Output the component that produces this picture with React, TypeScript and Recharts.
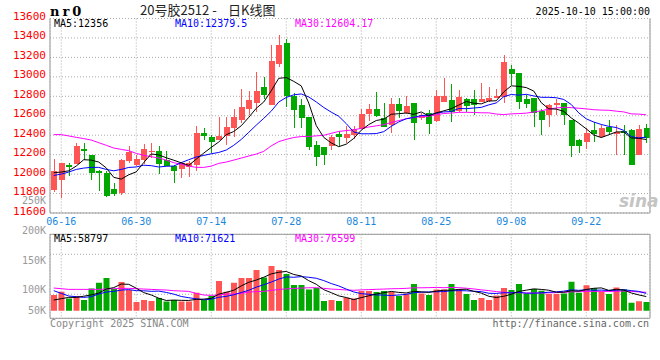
import React from "react";
import {
  ComposedChart,
  Bar,
  Line,
  XAxis,
  YAxis,
  CartesianGrid,
  ReferenceArea,
  Cell,
} from "recharts";

// trading days shown (06-13 .. 10-10)
const dates = [
  "06-13", "06-16", "06-17", "06-18", "06-19", "06-20", "06-23", "06-24", "06-25", "06-26",
  "06-27", "06-30", "07-01", "07-02", "07-03", "07-04", "07-07", "07-08", "07-09", "07-10",
  "07-11", "07-14", "07-15", "07-16", "07-17", "07-18", "07-21", "07-22", "07-23", "07-24",
  "07-25", "07-28", "07-29", "07-30", "07-31", "08-01", "08-04", "08-05", "08-06", "08-07",
  "08-08", "08-11", "08-12", "08-13", "08-14", "08-15", "08-18", "08-19", "08-20", "08-21",
  "08-22", "08-25", "08-26", "08-27", "08-28", "08-29", "09-01", "09-02", "09-03", "09-04",
  "09-05", "09-08", "09-09", "09-10", "09-11", "09-12", "09-15", "09-16", "09-17", "09-18",
  "09-19", "09-22", "09-23", "09-24", "09-25", "09-26", "09-29", "09-30", "10-09", "10-10",
];

const opens = [
  11834, 11938, 12090, 12103, 12254, 12193, 12035, 12010, 11850, 11805,
  12135, 12090, 12150, 12228, 12240, 12145, 12082, 12055, 12069, 12090,
  12426, 12378, 12350, 12391, 12474, 12556, 12666, 12734, 12900, 12713,
  13136, 13349, 12800, 12714, 12584, 12295, 12275, 12289, 12412, 12371,
  12399, 12467, 12616, 12665, 12574, 12501, 12720, 12625, 12727, 12577,
  12625, 12549, 12741, 12762, 12645, 12776, 12769, 12741, 12748, 12783,
  12790, 13084, 13036, 12769, 12783, 12652, 12604, 12714, 12727, 12556,
  12350, 12329, 12450, 12385, 12480, 12415, 12445, 12450, 12195, 12477,
];
const highs = [
  12160, 12115, 12110, 12323, 12316, 12200, 12045, 12035, 11905, 12155,
  12290, 12200, 12305, 12315, 12290, 12235, 12097, 12125, 12130, 12494,
  12474, 12400, 12584, 12590, 12666, 12880, 12852, 13046, 13003, 13332,
  13434, 13390, 12830, 12776, 12590, 12344, 12275, 12400, 12440, 12494,
  12494, 12665, 12720, 12840, 12735, 12782, 12782, 12803, 12730, 12625,
  12660, 12865, 12990, 12927, 12865, 12780, 12865, 12940, 12892, 12872,
  13222, 13120, 13040, 12810, 12785, 12674, 12720, 12769, 12730, 12560,
  12365, 12474, 12540, 12500, 12560, 12500, 12510, 12460, 12500, 12520,
];
const lows = [
  11815, 11755, 11980, 12100, 12144, 11938, 11825, 11760, 11775, 11785,
  12110, 12080, 12105, 12170, 12005, 12080, 11905, 11955, 11973, 12030,
  12350, 12220, 12348, 12300, 12378, 12522, 12605, 12640, 12770, 12710,
  13104, 12694, 12477, 12477, 12248, 12082, 12097, 12248, 12288, 12323,
  12365, 12460, 12548, 12590, 12480, 12425, 12577, 12620, 12350, 12560,
  12412, 12540, 12740, 12535, 12638, 12638, 12604, 12740, 12745, 12780,
  12730, 12920, 12666, 12680, 12480, 12400, 12487, 12611, 12508, 12178,
  12220, 12255, 12330, 12370, 12400, 12195, 12200, 12090, 12195, 12320,
];
const closes = [
  12028, 12110, 12076, 12285, 12241, 12007, 12010, 11775, 11800, 12150,
  12230, 12160, 12255, 12240, 12103, 12082, 12035, 12117, 12110, 12426,
  12392, 12330, 12392, 12487, 12590, 12687, 12762, 12858, 12810, 13167,
  13328, 12800, 12663, 12577, 12282, 12172, 12193, 12378, 12385, 12412,
  12467, 12616, 12665, 12596, 12480, 12720, 12645, 12700, 12528, 12603,
  12515, 12803, 12803, 12638, 12790, 12700, 12714, 12769, 12783, 12803,
  13155, 13029, 12741, 12720, 12625, 12556, 12714, 12727, 12604, 12288,
  12288, 12419, 12410, 12474, 12430, 12435, 12420, 12095, 12460, 12367,
];
const volumes = [
  65200, 78900, 51000, 61000, 44400, 92500, 116200, 135700, 90100, 119100,
  85900, 36100, 44400, 40300, 52700, 38600, 44400, 38600, 38600, 74700,
  44400, 61000, 123300, 78900, 116200, 135700, 135700, 168900, 138200, 185500,
  168900, 152300, 106700, 106700, 88400, 94200, 40300, 44400, 40300, 54000,
  51000, 81800, 81800, 77600, 81800, 77600, 61000, 70600, 110800, 71800,
  65200, 88400, 88400, 110800, 88400, 69300, 44400, 52700, 44400, 63500,
  94200, 85900, 110800, 71800, 90100, 83000, 69300, 69300, 71800, 120000,
  74000, 106000, 93000, 80000, 69200, 96500, 89500, 32500, 39500, 36000,
];

// moving-average values before a full window exists
const ma5Head = [12014, 12021, 12034, 12083];
const ma10Head = [11986, 12000, 12021, 12048, 12062, 12069, 12069, 12048, 12034];
const ma30Head = [
  12406, 12406, 12392, 12378, 12365, 12350, 12323, 12296, 12268, 12254,
  12241, 12213, 12193, 12179, 12165, 12144, 12117, 12103, 12082, 12069,
  12069, 12082, 12110, 12124, 12144, 12165, 12186, 12206, 12234,
];
const vma5Head = [44300, 49800, 55300, 55300];
const vma10Head = [83000, 71900, 60900, 58100, 55300, 58100, 69200, 77500, 80200];
const vma30Head = [
  94000, 91300, 88500, 88500, 88500, 88500, 88500, 89900, 91300, 92700,
  92700, 91300, 89900, 88500, 87100, 85800, 83000, 81600, 80200, 71900,
  65000, 63600, 65000, 69200, 69200, 71900, 77500, 79000, 80200,
];

const priceTicks = [11600, 11800, 12000, 12200, 12400, 12600, 12800, 13000, 13200, 13400, 13600];
const dateTicks = ["06-16", "06-30", "07-14", "07-28", "08-11", "08-25", "09-08", "09-22"];
const volLabelTicks = [50000, 100000, 150000, 200000, 250000];

const RED = "#ff5555";
const GREEN = "#00a800";
const MONO = "'DejaVu Sans Mono', monospace";
const GRID = "#aaa";
const BORDER = "#999";

function movingAvg(values: number[], n: number, head: number[]) {
  return values.map((_, i) => {
    if (i < n - 1) return head[i];
    let s = 0;
    for (let k = i - n + 1; k <= i; k++) s += values[k];
    return s / n;
  });
}

const ma5 = movingAvg(closes, 5, ma5Head);
const ma10 = movingAvg(closes, 10, ma10Head);
const ma30 = movingAvg(closes, 30, ma30Head);
const vma5 = movingAvg(volumes, 5, vma5Head);
const vma10 = movingAvg(volumes, 10, vma10Head);
const vma30 = movingAvg(volumes, 30, vma30Head);

const rows = dates.map((date, i) => ({
  date,
  open: opens[i],
  high: highs[i],
  low: lows[i],
  close: closes[i],
  vol: volumes[i],
  ma5: ma5[i],
  ma10: ma10[i],
  ma30: ma30[i],
  vma5: vma5[i],
  vma10: vma10[i],
  vma30: vma30[i],
}));

const Candle = (props: any) => {
  const { x, y, width, height, payload } = props;
  const { open, close, high, low } = payload;
  const top = Math.min(y, y + height);
  const bottom = Math.max(y, y + height);
  const k = high === low ? 0 : (bottom - top) / (high - low);
  const yOf = (v: number) => top + (high - v) * k;
  const color = close >= open ? RED : GREEN;
  const cx = x + width / 2;
  const b1 = Math.min(yOf(open), yOf(close));
  const b2 = Math.max(yOf(open), yOf(close));
  return (
    <g shapeRendering="crispEdges">
      <line x1={cx} x2={cx} y1={top} y2={bottom} stroke={color} strokeWidth={1} />
      <rect x={cx - 3} y={b1} width={6} height={Math.max(1, b2 - b1)} fill={color} />
    </g>
  );
};

const PriceTick = (props: any) => (
  <text x={props.x} y={props.y + 1.5} textAnchor="end" fill="#f00" fontSize={11} fontFamily={MONO}>
    {props.payload.value}
  </text>
);

const DateTick = (props: any) => (
  <text x={props.x} y={props.y + 12} textAnchor="middle" fill="#1a88dd" fontSize={10} fontFamily={MONO}>
    {props.payload.value}
  </text>
);

// volume labels: the lowest one is kept inside the panel, as in the original
const VolTick = (props: any) => {
  const cy = Math.min(props.y, 120.5);
  return (
    <text x={props.x} y={cy + 3.3} textAnchor="end" fill="#999" fontSize={10} fontFamily={MONO}>
      {props.payload.value / 1000}K
    </text>
  );
};

export default function App() {
  return (
    <div style={{ position: "absolute", left: 0, top: 0, width: 660, height: 360, background: "#fff" }}>
      <div style={{ position: "absolute", left: 0, top: 0 }}>
        <ComposedChart width={660} height={232} data={rows} margin={{ top: 18.5, right: 0, bottom: 0, left: 0 }}>
          <CartesianGrid yAxisId="p" stroke={GRID} strokeDasharray="1 2" />
          <XAxis
            dataKey="date"
            ticks={dateTicks}
            interval={0}
            height={19}
            tickSize={0}
            tickMargin={0}
            tickLine={false}
            axisLine={{ stroke: BORDER }}
            tick={DateTick}
          />
          <YAxis
            yAxisId="p"
            domain={[11600, 13600]}
            ticks={priceTicks}
            interval={0}
            width={50}
            tickSize={0}
            tickMargin={4}
            tickLine={false}
            axisLine={{ stroke: BORDER }}
            tick={PriceTick}
            allowDataOverflow
          />
          <YAxis
            yAxisId="r"
            orientation="right"
            domain={[11600, 13600]}
            width={10}
            tick={false}
            tickLine={false}
            axisLine={{ stroke: BORDER }}
          />
          <Bar
            yAxisId="p"
            dataKey={(d: any) => [d.low, d.high]}
            barSize={6}
            shape={Candle}
            isAnimationActive={false}
          />
          <Line yAxisId="p" type="linear" dataKey="ma30" stroke="#ff00ff" strokeWidth={1} dot={false} isAnimationActive={false} />
          <Line yAxisId="p" type="linear" dataKey="ma10" stroke="#0000ff" strokeWidth={1} dot={false} isAnimationActive={false} />
          <Line yAxisId="p" type="linear" dataKey="ma5" stroke="#000" strokeWidth={1} dot={false} isAnimationActive={false} />
        </ComposedChart>
      </div>

      <div style={{ position: "absolute", left: 0, top: 190 }}>
        <ComposedChart width={660} height={170} data={rows} margin={{ top: 44.3, right: 0, bottom: 41.7, left: 0 }}>
          <CartesianGrid yAxisId="g" stroke={GRID} strokeDasharray="1 2" />
          <XAxis dataKey="date" ticks={dateTicks} interval={0} hide height={0} />
          <YAxis
            yAxisId="lab"
            domain={[52280, 193930]}
            ticks={volLabelTicks}
            interval={0}
            width={50}
            tickSize={0}
            tickMargin={4}
            tickLine={false}
            axisLine={false}
            tick={VolTick}
            allowDataOverflow
          />
          <YAxis yAxisId="g" domain={[0, 4.2]} ticks={[1.2, 2.2, 3.2]} hide width={0} allowDataOverflow />
          <YAxis yAxisId="v" domain={[-31540, 317060]} hide width={0} allowDataOverflow />
          <YAxis yAxisId="r" orientation="right" domain={[0, 1]} width={10} tick={false} tickLine={false} axisLine={false} />
          <ReferenceArea yAxisId="g" y1={0} y2={4.2} fill="none" stroke={BORDER} ifOverflow="visible" />
          <Bar yAxisId="v" dataKey="vol" barSize={6} isAnimationActive={false}>
            {rows.map((r) => (
              <Cell key={r.date} fill={r.close >= r.open ? RED : GREEN} />
            ))}
          </Bar>
          <Line yAxisId="v" type="linear" dataKey="vma30" stroke="#ff00ff" strokeWidth={1} dot={false} isAnimationActive={false} />
          <Line yAxisId="v" type="linear" dataKey="vma10" stroke="#0000ff" strokeWidth={1} dot={false} isAnimationActive={false} />
          <Line yAxisId="v" type="linear" dataKey="vma5" stroke="#000" strokeWidth={1} dot={false} isAnimationActive={false} />
        </ComposedChart>
      </div>

      <svg width={660} height={360} style={{ position: "absolute", left: 0, top: 0, pointerEvents: "none" }}>
        <text x={50} y={16} fontSize={13} fontWeight="bold" fontFamily="'DejaVu Serif', serif" letterSpacing={3} fill="#000">
          nr0
        </text>
        <text x={140} y={15} fontSize={13} fontFamily="'Noto Sans CJK SC', sans-serif" fill="#222">
          20号胶2512 -
        </text>
        <text x={228} y={15} fontSize={13} fontFamily="'Noto Sans CJK SC', sans-serif" fill="#222">
          日K线图
        </text>
        <text x={650} y={15} textAnchor="end" fontSize={10} fontFamily={MONO} fill="#000">
          2025-10-10 15:00:00
        </text>
        <text x={54} y={27} fontSize={10} fontFamily={MONO} fill="#000">MA5:12356</text>
        <text x={175} y={27} fontSize={10} fontFamily={MONO} fill="#0000ff">MA10:12379.5</text>
        <text x={295} y={27} fontSize={10} fontFamily={MONO} fill="#ff00ff">MA30:12604.17</text>
        <text x={54} y={242} fontSize={10} fontFamily={MONO} fill="#000">MA5:58797</text>
        <text x={175} y={242} fontSize={10} fontFamily={MONO} fill="#0000ff">MA10:71621</text>
        <text x={295} y={242} fontSize={10} fontFamily={MONO} fill="#ff00ff">MA30:76599</text>
        <text x={619} y={207} fontSize={17} fontStyle="italic" fontWeight="bold" fontFamily="'DejaVu Sans', sans-serif" fill="#c4c4c4">
          sina
        </text>
        <text x={50} y={327} fontSize={10} fontFamily={MONO} fill="#888">Copyright 2025 SINA.COM</text>
        <text x={649} y={327} textAnchor="end" fontSize={10} fontFamily={MONO} fill="#666">
          http://finance.sina.com.cn
        </text>
      </svg>
    </div>
  );
}
